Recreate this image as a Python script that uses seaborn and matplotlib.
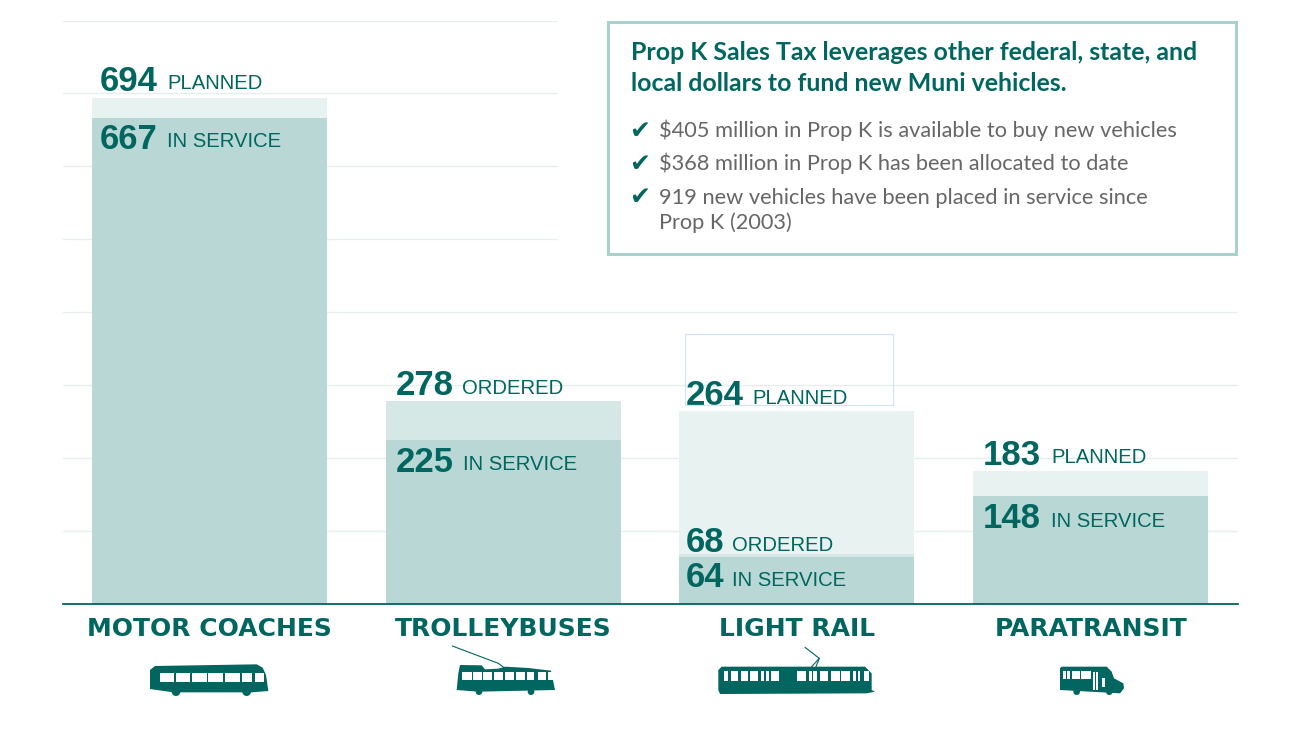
import matplotlib
matplotlib.use("Agg")
import matplotlib.pyplot as plt
from matplotlib.patches import Circle, Polygon, Rectangle
import seaborn as sns

categories = ["MOTOR COACHES", "TROLLEYBUSES", "LIGHT RAIL", "PARATRANSIT"]
planned = [694, 0, 264, 183]
ordered = [0, 278, 68, 0]
in_service = [667, 225, 64, 148]
y_ticks = [0, 100, 200, 300, 400, 500, 600, 700, 800]

headline = ["Prop K Sales Tax leverages other federal, state, and",
            "local dollars to fund new Muni vehicles."]
bullets = ["$405 million in Prop K is available to buy new vehicles",
           "$368 million in Prop K has been allocated to date",
           "919 new vehicles have been placed in service since",
           "Prop K (2003)"]

DARK = "#00665F"
LIGHT = "#E8F2F0"
MID = "#D6E8E5"
SERVICE = "#B9D8D5"
GRID = "#E4F0EE"
FRAME = "#A9D1CC"
BODY = "#666666"

sns.set_theme(style="white")
W, H = 1300, 731
fig = plt.figure(figsize=(W / 100, H / 100), dpi=100)
ax = fig.add_axes([62.6 / W, 1 - 604 / H, (1237.6 - 62.6) / W, (604 - 20.5) / H])

# back to front, so the smaller counts sit on top of the larger ones
for vals, col in [(planned, LIGHT), (ordered, MID), (in_service, SERVICE)]:
    sns.barplot(x=categories, y=vals, color=col, saturation=1, width=0.8,
                order=categories, ax=ax, zorder=2, linewidth=0)

ax.set_xlim(-0.5, 3.5)
ax.set_ylim(0, 800)
ax.set_yticks(y_ticks)
ax.set_yticklabels([])
ax.grid(axis="y", color=GRID, linewidth=1.0)
ax.set_axisbelow(True)
sns.despine(ax=ax, left=True, top=True, right=True)
ax.spines["bottom"].set_color(DARK)
ax.spines["bottom"].set_linewidth(1.3)
ax.tick_params(axis="both", length=0)
ax.tick_params(axis="x", pad=9.2)
ax.set_xticks(range(4))
ax.set_xticklabels(categories, fontsize=18, fontweight="bold", color=DARK,
                   family="DejaVu Sans")


def bar_label(i, value, word, dy, num_x, word_x):
    # dy is in pixels from the bar top to the text baseline, positive is up
    ax.annotate(str(value), (i - 0.4, value), xytext=(num_x * 0.72, dy * 0.72),
                textcoords="offset points", fontsize=25, fontweight="bold",
                color=DARK, family="Liberation Sans", va="baseline", zorder=5)
    ax.annotate(word, (i - 0.4, value), xytext=(word_x * 0.72, (dy + 1.5) * 0.72),
                textcoords="offset points", fontsize=14.6, color=DARK,
                family="Liberation Sans", va="baseline", zorder=5)


bar_label(0, planned[0], "PLANNED", 7, 8, 75)
bar_label(0, in_service[0], "IN SERVICE", -31, 8, 75)
bar_label(1, ordered[1], "ORDERED", 6, 10, 76)
bar_label(1, in_service[1], "IN SERVICE", -32, 10, 77)
bar_label(2, planned[2], "PLANNED", 6, 6, 73)
bar_label(2, ordered[2], "ORDERED", 2, 6, 53)
bar_label(2, in_service[2], "IN SERVICE", -30, 6, 53)
bar_label(3, planned[3], "PLANNED", 6, 10, 78)
bar_label(3, in_service[3], "IN SERVICE", -32, 10, 78)

# pixel overlay for the callout and the vehicle icons
ov = fig.add_axes([0, 0, 1, 1], facecolor="none")
ov.set_xlim(0, W)
ov.set_ylim(H, 0)
ov.axis("off")

ov.add_patch(Rectangle((558, 10), 680, 250, facecolor="white", edgecolor="none"))
ov.add_patch(Rectangle((607.5, 21.5), 628.5, 232.5, facecolor="white", edgecolor=FRAME, linewidth=2.2))
ov.add_patch(Rectangle((685, 333.5), 208, 71, facecolor="none", edgecolor="#D3E3F6", linewidth=0.9))

for line, y in zip(headline, [60, 91]):
    ov.text(631, y, line, fontsize=17.9, fontweight="bold", color=DARK,
            family="Lato", va="baseline")
for text, y in zip(bullets, [137, 170, 204, 229]):
    ov.text(659, y, text, fontsize=15.7, color=BODY, family="Lato", va="baseline")
for y in [138, 171, 204]:
    ov.text(629, y, "\u2714", fontsize=18, color=DARK, family="DejaVu Sans", va="baseline")


def icon(origin, outline, wins, wheels, wires=()):
    # shapes are measured on a 3x crop of the vehicle, so scale down to pixels
    ox, oy = origin
    pt = lambda p: (ox + p[0] / 3, oy + p[1] / 3)
    ov.add_patch(Polygon([pt(p) for p in outline], closed=True, facecolor=DARK, edgecolor="none"))
    for x0, x1, y0, y1 in wins:
        ov.add_patch(Rectangle(pt((x0, y0)), (x1 - x0) / 3, (y1 - y0) / 3, facecolor="white", edgecolor="none"))
    for cx, cy, r in wheels:
        ov.add_patch(Circle(pt((cx, cy)), r / 3, facecolor=DARK, edgecolor="none"))
    for wire in wires:
        xs, ys = zip(*[pt(p) for p in wire])
        ov.plot(xs, ys, color=DARK, linewidth=0.8, solid_capstyle="round")


def row(xs, y0, y1):
    return [(a, b, y0, y1) for a, b in xs]


icon((140, 655),
     [(30, 45), (45, 33), (350, 28), (368, 38), (378, 60), (385, 108), (335, 112), (100, 112), (30, 102)],
     row([(60, 103), (108, 150), (157, 200), (205, 250), (255, 300), (306, 336), (345, 372)], 53, 80),
     [(108, 110, 13), (320, 110, 13)])
icon((445, 640),
     [(45, 75), (110, 76), (120, 88), (160, 86), (180, 80), (250, 84), (318, 92), (330, 150), (100, 155), (35, 150), (40, 100)],
     row([(52, 80), (85, 110), (115, 142), (148, 175), (180, 207), (213, 240), (245, 268), (278, 303), (308, 325)], 97, 120),
     [(102, 155, 10), (258, 155, 10)],
     [[(22, 18), (160, 70), (180, 85)]])
icon((710, 640),
     [(25, 90), (35, 80), (465, 80), (485, 100), (485, 150), (495, 155), (470, 160), (30, 162), (25, 150)],
     row([(41, 55), (62, 85), (92, 115), (120, 143), (152, 163), (167, 177), (184, 208), (262, 287),
          (296, 305), (310, 320), (331, 355), (362, 390), (394, 420), (430, 438), (443, 451), (462, 478)], 92, 122),
     [],
     [[(285, 22), (328, 55), (305, 80)], [(328, 55), (318, 80)]])
icon((1050, 655),
     [(30, 40), (35, 35), (170, 35), (185, 50), (192, 70), (220, 85), (222, 100), (210, 115), (30, 105)],
     row([(38, 47), (52, 60), (65, 90), (93, 122)], 47, 72) + row([(128, 134), (138, 145)], 52, 105) + [(155, 165, 70, 95)],
     [(80, 110, 10), (178, 110, 10)])

fig.savefig("out.png", dpi=100)
plt.close(fig)
